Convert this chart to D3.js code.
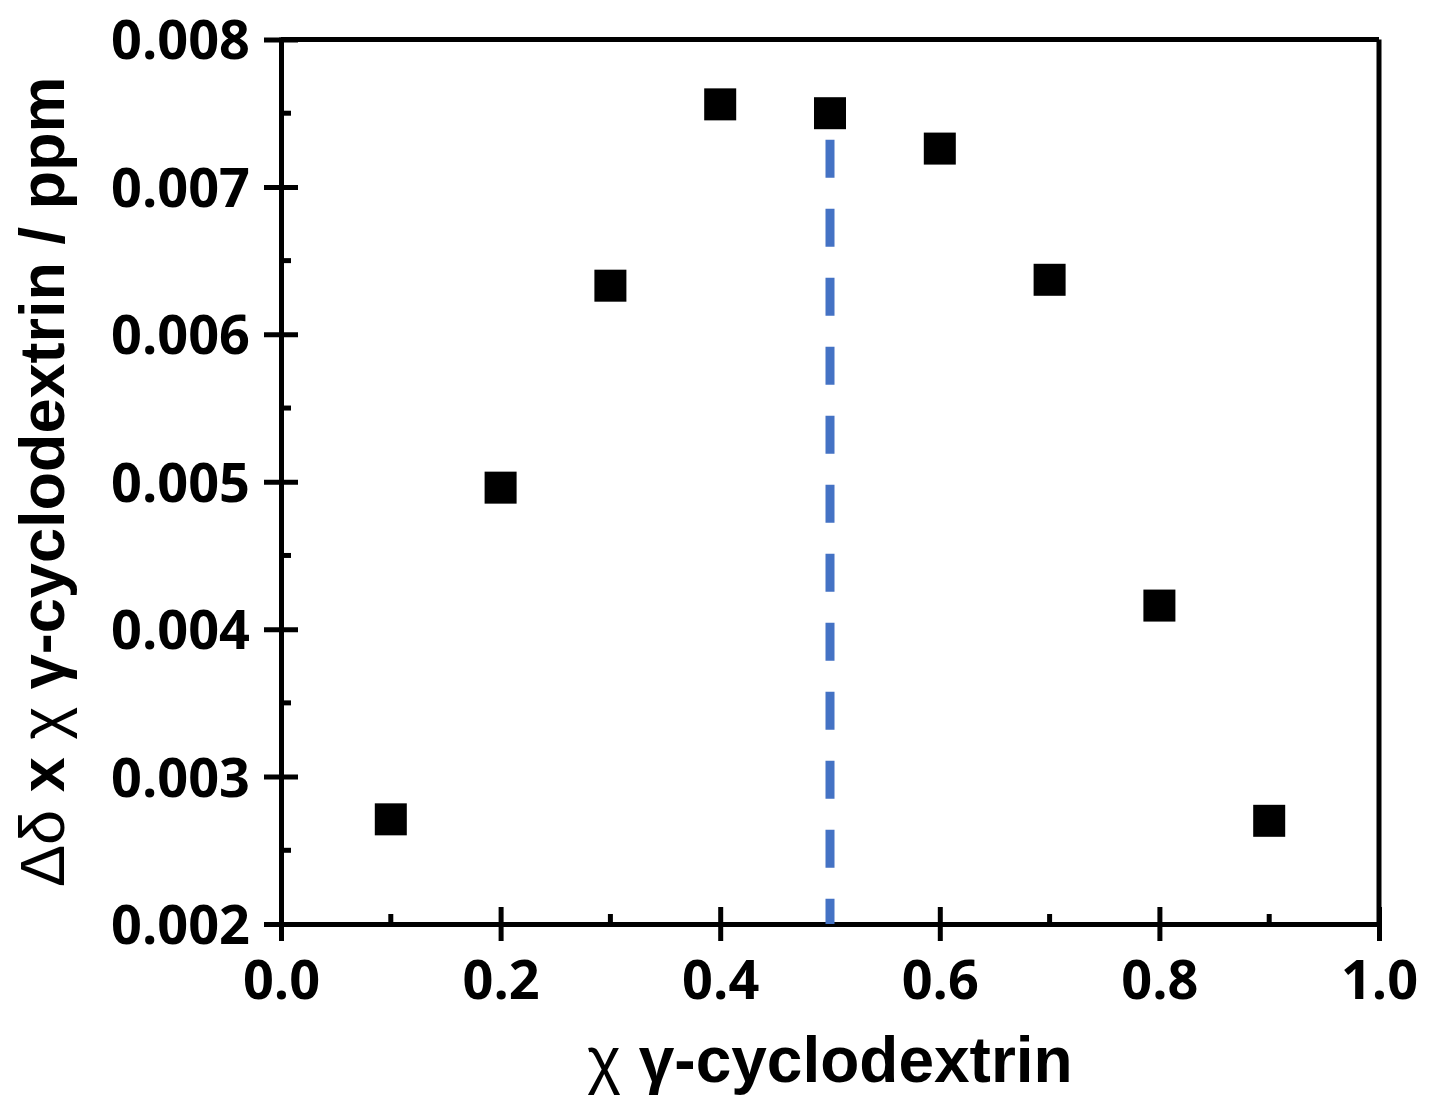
<!DOCTYPE html>
<html>
<head>
<meta charset="utf-8">
<script src="https://cdn.jsdelivr.net/npm/d3@7"></script>
<style>
  body { margin: 0; background: #fff; }
  svg { display: block; }
  .tick text { font-family: "Open Sans", sans-serif; font-weight: 700; }
</style>
</head>
<body>
<div id="chart"></div>
<script>
// data
var xValues = [0.1, 0.2, 0.3, 0.4, 0.5, 0.6, 0.7, 0.8, 0.9];
var yValues = [0.00271, 0.00496, 0.00633, 0.00756, 0.00750, 0.00726, 0.00637, 0.00416, 0.00270];
var xTicks = [0.0, 0.2, 0.4, 0.6, 0.8, 1.0];
var yTicks = [0.002, 0.003, 0.004, 0.005, 0.006, 0.007, 0.008];
var xMinor = [0.1, 0.3, 0.5, 0.7, 0.9];
var yMinor = [0.0025, 0.0035, 0.0045, 0.0055, 0.0065, 0.0075];
var markerLine = { x: 0.5, from: 0.00732, to: 0.002 };

var svgWidth = 1429;
var svgHeight = 1102;
var margin = { top: 39.5, right: 50, bottom: 178, left: 281 };
var width = 1379 - margin.left;
var height = 924 - margin.top;

var svg = d3.select("#chart")
            .append("svg")
            .attr("width", svgWidth)
            .attr("height", svgHeight);

var chartGroup = svg.append("g")
                    .attr("transform", `translate(${margin.left}, ${margin.top})`);

var xScale = d3.scaleLinear().domain([0, 1]).range([0, width]);
var yScale = d3.scaleLinear().domain([0.002, 0.008]).range([height, 0]);

var axisW = 5;
var majorLen = 17;
var minorLen = 10;

// frame: top and right lines
chartGroup.append("line")
          .attr("x1", 0).attr("x2", width)
          .attr("y1", 0).attr("y2", 0)
          .attr("stroke", "#000").attr("stroke-width", axisW);
chartGroup.append("line")
          .attr("x1", width).attr("x2", width)
          .attr("y1", 0).attr("y2", height)
          .attr("stroke", "#000").attr("stroke-width", axisW);

// bottom axis, major ticks cross the line
var bottomAxis = d3.axisBottom(xScale)
                   .tickValues(xTicks)
                   .tickFormat(d3.format(".1f"))
                   .tickSizeInner(majorLen)
                   .tickSizeOuter(0)
                   .tickPadding(20);
var xAxisG = chartGroup.append("g")
                       .attr("transform", `translate(0, ${height})`)
                       .call(bottomAxis);
xAxisG.select(".domain").attr("stroke-width", axisW).attr("stroke-linecap", "square");
xAxisG.selectAll(".tick line").attr("y1", -majorLen).attr("stroke-width", axisW);
xAxisG.selectAll(".tick text").attr("font-size", 54).attr("fill", "#000");

xAxisG.selectAll(".minor")
      .data(xMinor)
      .enter()
      .append("line")
      .attr("class", "minor")
      .attr("x1", d => xScale(d)).attr("x2", d => xScale(d))
      .attr("y1", 0).attr("y2", -minorLen)
      .attr("stroke", "#000").attr("stroke-width", axisW);

// left axis
var leftAxis = d3.axisLeft(yScale)
                 .tickValues(yTicks)
                 .tickFormat(d3.format(".3f"))
                 .tickSizeInner(majorLen)
                 .tickSizeOuter(0)
                 .tickPadding(14);
var yAxisG = chartGroup.append("g").call(leftAxis);
yAxisG.select(".domain").attr("stroke-width", axisW).attr("stroke-linecap", "square");
yAxisG.selectAll(".tick line").attr("x1", majorLen).attr("stroke-width", axisW);
yAxisG.selectAll(".tick text").attr("font-size", 54).attr("fill", "#000").attr("dy", "0.36em");

yAxisG.selectAll(".minor")
      .data(yMinor)
      .enter()
      .append("line")
      .attr("class", "minor")
      .attr("x1", 0).attr("x2", minorLen)
      .attr("y1", d => yScale(d)).attr("y2", d => yScale(d))
      .attr("stroke", "#000").attr("stroke-width", axisW);

// dashed line at x = 0.5
chartGroup.append("line")
          .attr("x1", xScale(markerLine.x)).attr("x2", xScale(markerLine.x))
          .attr("y1", yScale(markerLine.from)).attr("y2", yScale(markerLine.to))
          .attr("stroke", "#4472C4")
          .attr("stroke-width", 9)
          .attr("stroke-dasharray", "38,31");

// square markers
var size = 32;
chartGroup.selectAll(".pt")
          .data(xValues)
          .enter()
          .append("rect")
          .attr("class", "pt")
          .attr("x", d => xScale(d) - size / 2)
          .attr("y", (d, i) => yScale(yValues[i]) - size / 2)
          .attr("width", size)
          .attr("height", size)
          .attr("fill", "#000");

// axis titles
var xTitle = svg.append("text")
                .attr("x", margin.left + width / 2)
                .attr("y", 1082)
                .attr("text-anchor", "middle")
                .attr("font-family", "'Liberation Sans', Arial, sans-serif")
                .attr("font-weight", 700)
                .attr("font-size", 64);
xTitle.append("tspan").attr("font-weight", 400).text("χ");
xTitle.append("tspan").text(" γ-cyclodextrin");

var yTitle = svg.append("text")
                .attr("transform", `translate(64, ${margin.top + height / 2}) rotate(-90)`)
                .attr("text-anchor", "middle")
                .attr("font-family", "'Liberation Sans', Arial, sans-serif")
                .attr("font-weight", 700)
                .attr("font-size", 63);
yTitle.append("tspan").attr("font-weight", 400).text("Δδ");
yTitle.append("tspan").text(" x ");
yTitle.append("tspan").attr("font-weight", 400).text("χ");
yTitle.append("tspan").text(" γ-cyclodextrin / ppm");
</script>
</body>
</html>
